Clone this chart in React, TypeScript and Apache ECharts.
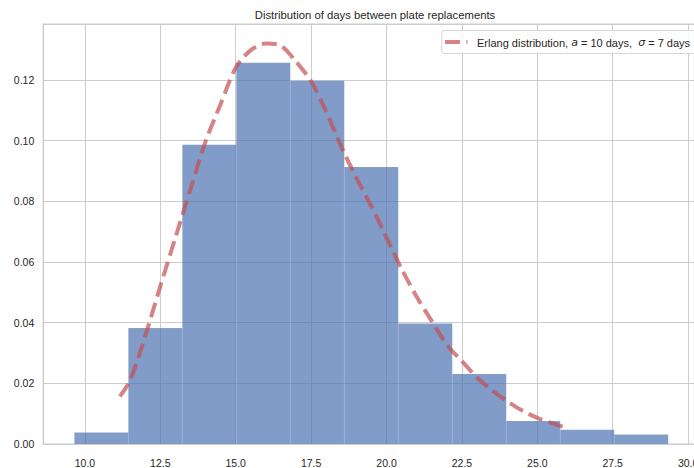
import React, { useEffect, useRef } from "react";
import * as echarts from "echarts";

// Histogram bins (left edge, right edge) and density heights
const binEdges = [9.649, 11.439, 13.229, 15.019, 16.809, 18.599, 20.389, 22.179, 23.969, 25.759, 27.549, 29.339];
const binHeights = [0.0038, 0.0382, 0.0986, 0.1256, 0.1197, 0.0913, 0.0397, 0.0231, 0.0076, 0.0047, 0.0031];

// Erlang density curve
const curveX = [11.16, 11.5, 12.0, 12.5, 13.0, 13.5, 14.0, 14.5, 15.0, 15.5, 16.0, 16.5, 17.0, 17.5, 18.0, 18.5, 19.0, 19.5, 20.0, 20.5, 21.0, 21.5, 22.0, 22.5, 23.0, 23.5, 24.0, 24.5, 25.0, 25.5, 25.84];
const curveY = [0.0157, 0.021, 0.0356, 0.052, 0.068, 0.084, 0.0997, 0.112, 0.124, 0.1298, 0.132, 0.1312, 0.126, 0.1195, 0.1095, 0.098, 0.0877, 0.0783, 0.068, 0.0577, 0.0485, 0.0405, 0.0327, 0.0273, 0.0219, 0.0177, 0.0141, 0.011, 0.0086, 0.0068, 0.0057];

const xTicks = [10, 12.5, 15, 17.5, 20, 22.5, 25, 27.5, 30];

const titleText = "Distribution of days between plate replacements";

const FONT = "'Liberation Sans', Arial, sans-serif";
const TEXT = "#262626";
const GRID = "#cccccc";

export default function App() {
  const ref = useRef<HTMLDivElement>(null);
  useEffect(() => {
    if (!ref.current) return;
    const chart = echarts.init(ref.current, undefined, { renderer: "svg" });
    const histData = binHeights.map((h, i) => [binEdges[i], binEdges[i + 1], h]);
    const lineData = curveX.map((x, i) => [x, curveY[i]]);
    chart.setOption({
      animation: false,
      backgroundColor: "#ffffff",
      textStyle: { fontFamily: FONT },
      grid: {
        left: 43.3,
        top: 24,
        width: 654.5,
        height: 427,
        show: true,
        borderColor: GRID,
        borderWidth: 1.2,
        backgroundColor: "transparent",
      },
      xAxis: {
        type: "value",
        min: 8.62,
        max: 30.32,
        axisLine: { show: true, lineStyle: { color: GRID, width: 1.2 } },
        axisTick: { show: false, customValues: xTicks },
        axisLabel: {
          customValues: xTicks,
          formatter: (v: number) => v.toFixed(1),
          color: TEXT,
          fontSize: 10.5,
          fontFamily: FONT,
          margin: 13,
        },
        splitLine: { show: true, lineStyle: { color: GRID, width: 1 } },
      },
      yAxis: {
        type: "value",
        min: 0,
        max: 0.1384,
        interval: 0.02,
        axisLine: { show: true, lineStyle: { color: GRID, width: 1.2 } },
        axisTick: { show: false },
        axisLabel: {
          formatter: (v: number) => v.toFixed(2),
          color: TEXT,
          fontSize: 10.5,
          fontFamily: FONT,
          margin: 9,
          showMaxLabel: false,
        },
        splitLine: { show: true, lineStyle: { color: GRID, width: 1 } },
      },
      series: [
        {
          type: "custom",
          data: histData,
          encode: { x: [0, 1], y: 2 },
          z: 2,
          renderItem: (params: any, api: any) => {
            const x0 = api.value(0);
            const x1 = api.value(1);
            const h = api.value(2);
            const p0 = api.coord([x0, h]);
            const p1 = api.coord([x1, 0]);
            return {
              type: "rect",
              shape: { x: p0[0], y: p0[1], width: p1[0] - p0[0], height: p1[1] - p0[1] },
              style: { fill: "#4C72B0", opacity: 0.7, stroke: "rgba(255,255,255,0.25)", lineWidth: 0.5 },
            };
          },
        },
        {
          type: "line",
          data: lineData,
          smooth: 0.3,
          symbol: "none",
          z: 3,
          lineStyle: { color: "#C44E52", opacity: 0.7, width: 4, type: [15, 6.4], cap: "butt" },
        },
      ],
      graphic: [
        {
          type: "text",
          x: 375,
          y: 15,
          style: { text: titleText, fill: TEXT, font: `11.3px ${FONT}`, align: "center", verticalAlign: "middle" },
        },
        {
          type: "rect",
          z: 100,
          shape: { x: 441.7, y: 30.5, width: 275, height: 23, r: 3 },
          style: { fill: "rgba(255,255,255,0.85)", stroke: "#d6d6d6", lineWidth: 1 },
        },
        {
          type: "line",
          z: 101,
          shape: { x1: 445, y1: 42, x2: 467.5, y2: 42 },
          style: { stroke: "#C44E52", opacity: 0.7, lineWidth: 4, lineDash: [15, 6.4], lineCap: "butt" },
        },
        {
          type: "text",
          z: 101,
          x: 477,
          y: 42.5,
          style: {
            text: "{n|Erlang distribution, }{i|a}{n| = 10 days,  }{i|σ}{n| = 7 days}",
            verticalAlign: "middle",
            rich: {
              n: { fontFamily: FONT, fontSize: 11, fill: TEXT, color: TEXT },
              i: { fontFamily: "'DejaVu Sans', sans-serif", fontStyle: "italic", fontSize: 11, fill: TEXT, color: TEXT },
            },
          },
        },
      ],
    });
    return () => chart.dispose();
  }, []);
  return (
    <div
      ref={ref}
      style={{ position: "fixed", left: 0, top: 0, width: 710, height: 468, background: "#fff" }}
    />
  );
}
